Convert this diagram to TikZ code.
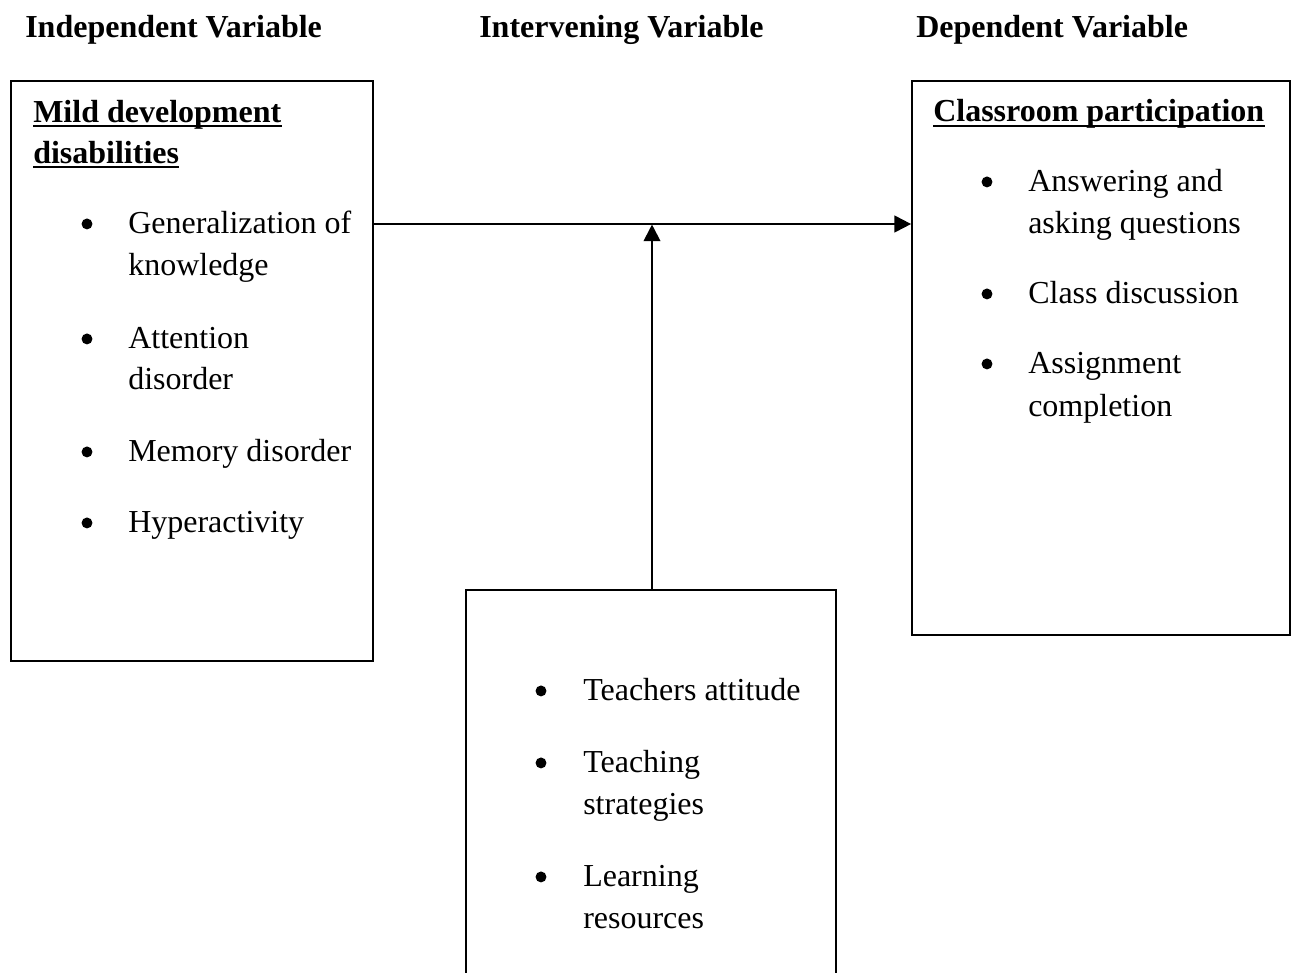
\documentclass[tikz,border=0pt]{standalone}
\usepackage{fontspec}
\setmainfont{Liberation Serif}
\usetikzlibrary{arrows.meta,fit}
\tikzset{
  box/.style={draw, line width=1.3pt, inner sep=0pt},
  txt/.style={anchor=base west, inner sep=0pt, font=\fontsize{24}{30}\selectfont},
  hdr/.style={anchor=base west, inner sep=0pt, font=\fontsize{24}{30}\selectfont\bfseries},
  bul/.style={circle, fill=black, inner sep=0pt, minimum size=8.2pt, yshift=6.8pt},
  uline/.style={line width=1.8pt},
  arr/.style={line width=1.5pt, -{Triangle[length=12.5pt,width=12.5pt]}}
}
\begin{document}
\begin{tikzpicture}[x=0.75pt,y=-0.75pt]
\useasboundingbox (0,0) rectangle (1292,972);
\clip (0,0) rectangle (1292,972);
\fill[white] (0,0) rectangle (1292,972);

% headers
\node[hdr] (h1) at (25,37) {Independent Variable};
\node[hdr] (h2) at (479,37) {Intervening Variable};
\node[hdr] (h3) at (916,37) {Dependent Variable};

% boxes
\coordinate (l1) at (11,81);  \coordinate (l2) at (373,661);
\coordinate (r1) at (912,81); \coordinate (r2) at (1290,635);
\coordinate (b1) at (466,590); \coordinate (b2) at (836,1010);
\node[box, fit=(l1)(l2)] (L) {};
\node[box, fit=(r1)(r2)] (R) {};
\node[box, fit=(b1)(b2)] (B) {};

% left box content
\node[hdr] (lt1) at (33,122) {Mild development};
\node[hdr] (lt2) at (33,163) {disabilities};
\draw[uline] ([yshift=-3.2pt]lt1.base west) -- ([yshift=-3.2pt]lt1.base east);
\draw[uline] ([yshift=-3.2pt]lt2.base west) -- ([yshift=-3.2pt]lt2.base east);

\node[bul] (lb1) at (87,233) {};
\node[txt] (la1) at (128,233) {Generalization of};
\node[txt] (la2) at (128,275) {knowledge};
\node[bul] (lb2) at (87,348) {};
\node[txt] (la3) at (128,348) {Attention};
\node[txt] (la4) at (128,389) {disorder};
\node[bul] (lb3) at (87,461) {};
\node[txt] (la5) at (128,461) {Memory disorder};
\node[bul] (lb4) at (87,532) {};
\node[txt] (la6) at (128,532) {Hyperactivity};

% right box content
\node[hdr] (rt1) at (933,121) {Classroom participation};
\draw[uline] ([yshift=-3.6pt]rt1.base west) -- ([yshift=-3.6pt]rt1.base east);
\node[bul] (rb1) at (987,191) {};
\node[txt] (ra1) at (1028,191) {Answering and};
\node[txt] (ra2) at (1028,233) {asking questions};
\node[bul] (rb2) at (987,303) {};
\node[txt] (ra3) at (1028,303) {Class discussion};
\node[bul] (rb3) at (987,373) {};
\node[txt] (ra4) at (1028,373) {Assignment};
\node[txt] (ra5) at (1028,416) {completion};

% bottom box content
\node[bul] (bb1) at (541,700) {};
\node[txt] (ba1) at (583,700) {Teachers attitude};
\node[bul] (bb2) at (541,772) {};
\node[txt] (ba2) at (583,772) {Teaching};
\node[txt] (ba3) at (583,814) {strategies};
\node[bul] (bb3) at (541,886) {};
\node[txt] (ba4) at (583,886) {Learning};
\node[txt] (ba5) at (583,928) {resources};

% connectors
\coordinate (J) at (652,224);
\draw[arr] (L.east |- J) -- (R.west |- J);
\draw[arr] (B.north -| J) -- ([yshift=-0.4pt]J);
\end{tikzpicture}
\end{document}
